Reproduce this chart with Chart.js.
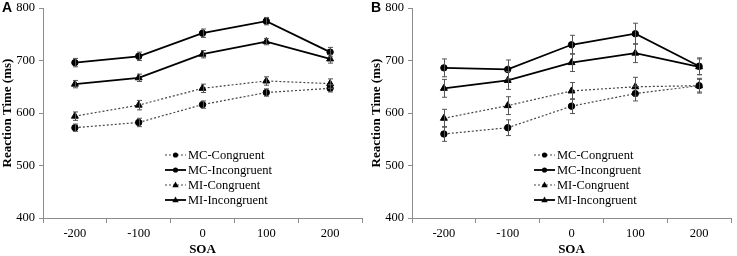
<!DOCTYPE html>
<html>
<head>
<meta charset="utf-8">
<script src="https://cdn.jsdelivr.net/npm/chart.js@4.4.1/dist/chart.umd.min.js"></script>
<style>
  html, body { margin: 0; padding: 0; background: #fff; }
  #wrap { position: relative; width: 737px; height: 256px; overflow: hidden; }
  .panel { position: absolute; top: 0; }
</style>
</head>
<body>
<div id="wrap">
  <div class="panel" style="left:0px"><canvas id="chartA" width="368" height="256"></canvas></div>
  <div class="panel" style="left:369px"><canvas id="chartB" width="368" height="256"></canvas></div>
</div>
<script>
// ---- data ----
const soaLabels = ['-200', '-100', '0', '100', '200'];
const seriesNames = ['MC-Congruent', 'MC-Incongruent', 'MI-Congruent', 'MI-Incongruent'];
const yTicks = [400, 500, 600, 700, 800];

// Panel A
const a_mcCong   = [572, 582, 616, 639, 647];
const a_mcIncong = [696, 708, 752, 775, 716];
const a_miCong   = [594, 615, 647, 661, 656];
const a_miIncong = [655, 667, 712, 736, 703];
const a_mcCongErr   = [7, 8, 7, 7, 7];
const a_mcIncongErr = [8, 8, 8, 7, 9];
const a_miCongErr   = [8, 9, 8, 8, 9];
const a_miIncongErr = [7, 7, 7, 6, 8];

// Panel B
const b_mcCong   = [560, 572, 613, 637, 652];
const b_mcIncong = [686, 683, 730, 751, 689];
const b_miCong   = [590, 614, 642, 650, 652];
const b_miIncong = [647, 662, 696, 714, 688];
const b_mcCongErr   = [14, 15, 14, 14, 12];
const b_mcIncongErr = [17, 18, 18, 20, 16];
const b_miCongErr   = [17, 17, 16, 18, 14];
const b_miIncongErr = [17, 17, 17, 18, 15];

// ---- styling helpers ----
const SERIF = '"Liberation Serif", "Times New Roman", serif';
const AXIS_COLOR = '#8c8c8c';

function makeDatasets(vals, errs) {
  const styles = [
    { dash: [2, 2], color: '#444', width: 1.2, point: 'circle', r: 3.2 },
    { dash: [],     color: '#000', width: 1.8, point: 'circle', r: 3.2 },
    { dash: [2, 2], color: '#444', width: 1.2, point: 'triangle', r: 4 },
    { dash: [],     color: '#000', width: 1.8, point: 'triangle', r: 4 }
  ];
  return vals.map((v, i) => ({
    label: seriesNames[i],
    data: v,
    errors: errs[i],
    borderColor: styles[i].color,
    borderWidth: styles[i].width,
    borderDash: styles[i].dash,
    pointStyle: styles[i].point,
    pointRadius: styles[i].r,
    pointBackgroundColor: '#000',
    pointBorderColor: '#000',
    pointBorderWidth: 1,
    tension: 0,
    fill: false
  }));
}

const errorBarPlugin = {
  id: 'errorBars',
  afterDatasetsDraw(chart) {
    const ctx = chart.ctx;
    const yScale = chart.scales.y;
    ctx.save();
    ctx.strokeStyle = '#555';
    ctx.lineWidth = 1;
    ctx.setLineDash([]);
    chart.data.datasets.forEach((ds, di) => {
      const meta = chart.getDatasetMeta(di);
      meta.data.forEach((pt, i) => {
        const v = ds.data[i], e = ds.errors[i];
        const x = Math.round(pt.x) + 0.5;
        const y1 = yScale.getPixelForValue(v + e);
        const y2 = yScale.getPixelForValue(v - e);
        ctx.beginPath();
        ctx.moveTo(x, y1); ctx.lineTo(x, y2);
        ctx.moveTo(x - 2.5, y1); ctx.lineTo(x + 2.5, y1);
        ctx.moveTo(x - 2.5, y2); ctx.lineTo(x + 2.5, y2);
        ctx.stroke();
      });
    });
    ctx.restore();
  }
};

const legendPlugin = {
  id: 'inLegend',
  afterDraw(chart) {
    const ctx = chart.ctx;
    const area = chart.chartArea;
    const x0 = area.left + 122;
    const y0 = 155;
    const rowH = 15;
    ctx.save();
    chart.data.datasets.forEach((ds, i) => {
      const y = y0 + i * rowH;
      ctx.strokeStyle = ds.borderColor;
      ctx.lineWidth = ds.borderWidth;
      ctx.setLineDash(ds.borderDash);
      ctx.beginPath();
      ctx.moveTo(x0, y); ctx.lineTo(x0 + 21, y);
      ctx.stroke();
      ctx.setLineDash([]);
      ctx.fillStyle = '#000';
      const cx = x0 + 10.5;
      if (ds.pointStyle === 'circle') {
        ctx.beginPath(); ctx.arc(cx, y, 2.6, 0, Math.PI * 2); ctx.fill();
      } else {
        ctx.beginPath();
        ctx.moveTo(cx, y - 3.5); ctx.lineTo(cx + 3.2, y + 2.2); ctx.lineTo(cx - 3.2, y + 2.2);
        ctx.closePath(); ctx.fill();
      }
      ctx.font = '12.5px ' + SERIF;
      ctx.textBaseline = 'middle';
      ctx.textAlign = 'left';
      ctx.fillText(ds.label, x0 + 23, y + 0.5);
    });
    ctx.restore();
  }
};

const panelLetterPlugin = {
  id: 'panelLetter',
  afterDraw(chart) {
    const ctx = chart.ctx;
    ctx.save();
    ctx.font = 'bold 14px "Liberation Sans", Arial, sans-serif';
    ctx.fillStyle = '#000';
    ctx.textBaseline = 'top';
    ctx.textAlign = 'left';
    ctx.fillText(chart.options.plugins.panelLetter.text, 2, 1);
    ctx.restore();
  }
};

function makeChart(id, letter, vals, errs) {
  return new Chart(document.getElementById(id), {
    type: 'line',
    data: { labels: soaLabels, datasets: makeDatasets(vals, errs) },
    plugins: [errorBarPlugin, legendPlugin, panelLetterPlugin],
    options: {
      responsive: false,
      animation: false,
      devicePixelRatio: 1,
      layout: { padding: { top: 8, right: 6, left: 0, bottom: 0 } },
      plugins: {
        legend: { display: false },
        tooltip: { enabled: false },
        panelLetter: { text: letter }
      },
      scales: {
        x: {
          type: 'category',
          offset: true,
          afterFit(s) { s.height = 38; },
          grid: { display: true, drawOnChartArea: false, offset: true, tickLength: 5, color: AXIS_COLOR },
          border: { display: true, color: AXIS_COLOR, width: 1 },
          ticks: { color: '#000', font: { family: SERIF, size: 12.5 }, padding: 3, maxRotation: 0 },
          title: { display: true, text: 'SOA', color: '#000', font: { family: SERIF, size: 13, weight: 'bold' }, padding: { top: 0, bottom: -1 } }
        },
        y: {
          min: 400, max: 800,
          afterFit(s) { s.width = 43; s.paddingTop = 0; s.paddingBottom = 0; },
          afterBuildTicks(s) { s.ticks = yTicks.map(v => ({ value: v })); },
          grid: { display: true, drawOnChartArea: false, tickLength: 4, color: AXIS_COLOR },
          border: { display: true, color: AXIS_COLOR, width: 1 },
          ticks: { color: '#000', font: { family: SERIF, size: 12.5 }, padding: 4 },
          title: { display: true, text: 'Reaction Time (ms)', color: '#000', font: { family: SERIF, size: 13, weight: 'bold' }, padding: { top: 0, bottom: 0 } }
        }
      }
    }
  });
}

makeChart('chartA', 'A', [a_mcCong, a_mcIncong, a_miCong, a_miIncong], [a_mcCongErr, a_mcIncongErr, a_miCongErr, a_miIncongErr]);
makeChart('chartB', 'B', [b_mcCong, b_mcIncong, b_miCong, b_miIncong], [b_mcCongErr, b_mcIncongErr, b_miCongErr, b_miIncongErr]);
</script>
</body>
</html>
